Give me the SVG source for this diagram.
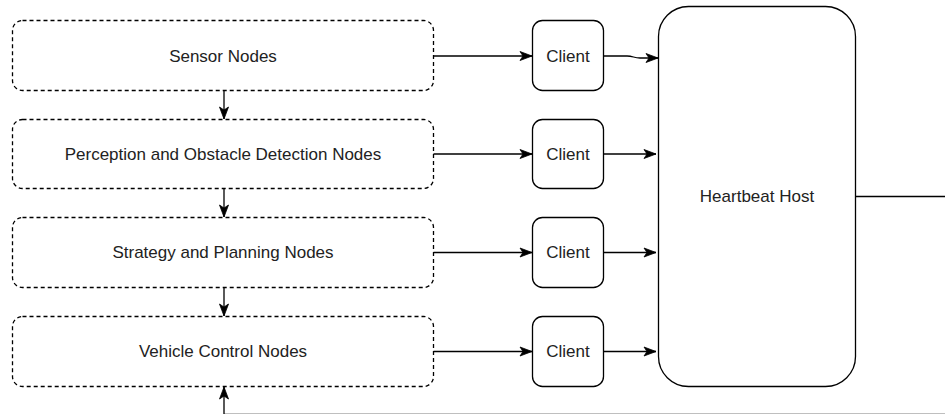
<svg xmlns="http://www.w3.org/2000/svg" width="945" height="414" viewBox="0 0 945 414">
  <defs>
    <style>
      .group { fill: #ffffff; stroke: #000000; stroke-width: 1.3; stroke-dasharray: 4 3; }
      .box { fill: #ffffff; stroke: #000000; stroke-width: 1.3; }
      .label { font-family: "Liberation Sans", Arial, Helvetica, sans-serif; font-size: 17px; fill: #222222; text-anchor: middle; }
      .edge { fill: none; stroke: #000000; stroke-width: 1.3; marker-end: url(#arrow); }
    </style>
    <marker id="arrow" markerUnits="userSpaceOnUse" markerWidth="12" markerHeight="10" refX="12" refY="4.5" orient="auto" overflow="visible">
      <path d="M0,0 L12,4.5 L0,9 L3,4.5 Z" fill="#000000" stroke="#000000" stroke-width="0.8" stroke-linejoin="miter"/>
    </marker>
  </defs>
  <rect width="945" height="414" fill="#ffffff"/>

  <!-- node layers -->
  <g id="sensor-nodes">
    <rect class="group" x="12.5" y="20.5" width="421" height="70" rx="10" ry="10"/>
    <text class="label" x="223" y="61.5">Sensor Nodes</text>
  </g>
  <g id="perception-nodes">
    <rect class="group" x="12.5" y="119.5" width="421" height="69" rx="10" ry="10"/>
    <text class="label" x="223" y="160">Perception and Obstacle Detection Nodes</text>
  </g>
  <g id="planning-nodes">
    <rect class="group" x="12.5" y="217.5" width="421" height="70" rx="10" ry="10"/>
    <text class="label" x="223" y="258">Strategy and Planning Nodes</text>
  </g>
  <g id="control-nodes">
    <rect class="group" x="12.5" y="316.5" width="421" height="70" rx="10" ry="10"/>
    <text class="label" x="223" y="357">Vehicle Control Nodes</text>
  </g>

  <!-- heartbeat clients -->
  <g id="client-1">
    <rect class="box" x="532.5" y="20.5" width="71" height="70" rx="10" ry="10"/>
    <text class="label" x="568" y="61.5">Client</text>
  </g>
  <g id="client-2">
    <rect class="box" x="532.5" y="119.5" width="71" height="69" rx="10" ry="10"/>
    <text class="label" x="568" y="160">Client</text>
  </g>
  <g id="client-3">
    <rect class="box" x="532.5" y="217.5" width="71" height="70" rx="10" ry="10"/>
    <text class="label" x="568" y="258">Client</text>
  </g>
  <g id="client-4">
    <rect class="box" x="532.5" y="316.5" width="71" height="70" rx="10" ry="10"/>
    <text class="label" x="568" y="357">Client</text>
  </g>

  <!-- host -->
  <g id="heartbeat-host">
    <rect class="box" x="658.5" y="6.5" width="197" height="380" rx="30" ry="30"/>
    <text class="label" x="757" y="202">Heartbeat Host</text>
  </g>

  <!-- connectors -->
  <g id="connectors">
    <!-- pipeline flow between layers -->
    <path class="edge" d="M224,90.5 L224,119"/>
    <path class="edge" d="M224,188.5 L224,217"/>
    <path class="edge" d="M224,287.5 L224,316"/>

    <!-- layers to clients -->
    <path class="edge" d="M433.5,56 L532,56"/>
    <path class="edge" d="M433.5,154 L532,154"/>
    <path class="edge" d="M433.5,252.5 L532,252.5"/>
    <path class="edge" d="M433.5,351.5 L532,351.5"/>

    <!-- clients to host -->
    <path class="edge" d="M603.5,56 L627,56 C633,56 634,58 640,58 L658,58"/>
    <path class="edge" d="M603.5,154 L656,154"/>
    <path class="edge" d="M603.5,252.5 L656,252.5"/>
    <path class="edge" d="M603.5,351.5 L656,351.5"/>

    <!-- host feedback loop into vehicle control -->
    <path class="edge" d="M855.5,196.5 L960,196.5 L960,414.4 L224,414.4 L224,387"/>
  </g>
</svg>
